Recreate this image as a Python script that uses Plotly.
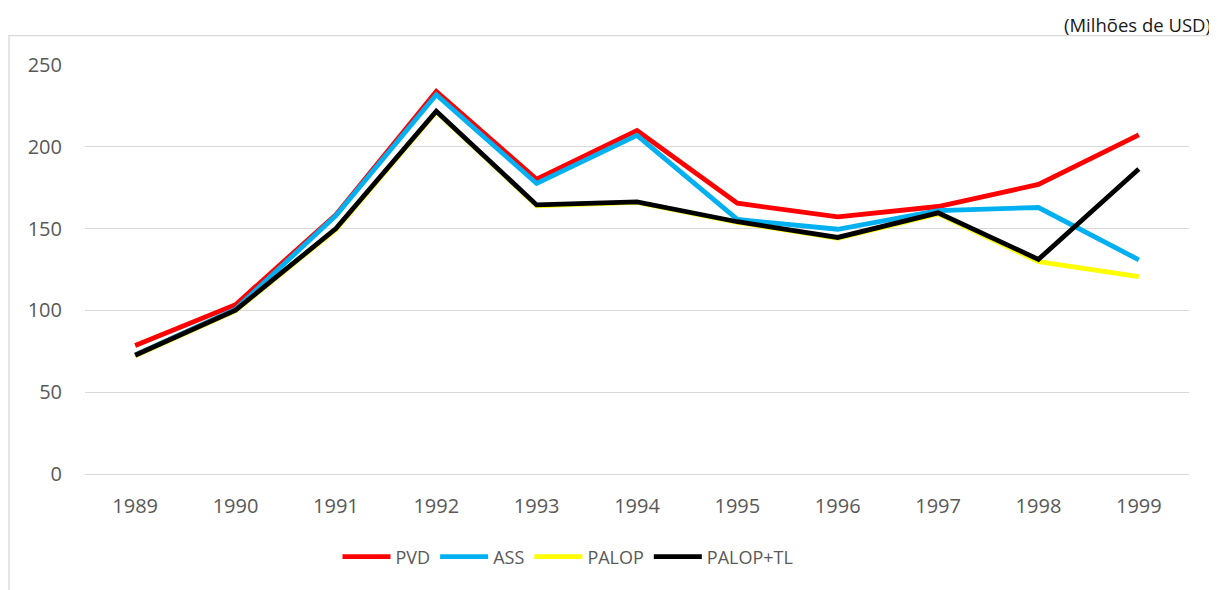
import plotly.graph_objects as go

years = ["1989", "1990", "1991", "1992", "1993", "1994", "1995", "1996", "1997", "1998", "1999"]
pvd = [78.5, 103.5, 158.5, 233.8, 180.2, 210.0, 165.5, 157.2, 163.5, 177.0, 207.3]
ass = [72.8, 100.8, 158.0, 231.8, 177.6, 207.0, 155.6, 149.6, 161.0, 162.9, 130.9]
palop = [72.3, 99.8, 149.5, 221.3, 164.0, 166.0, 153.8, 144.0, 159.0, 129.8, 120.6]
palop_tl = [72.6, 100.2, 150.0, 221.8, 164.5, 166.3, 154.2, 144.6, 159.6, 131.2, 186.4]

series = [("PVD", pvd, "#FF0000"), ("ASS", ass, "#00B0F0"),
          ("PALOP", palop, "#FFFF00"), ("PALOP+TL", palop_tl, "#000000")]

fig = go.Figure()
for name, vals, col in series:
    fig.add_trace(go.Scatter(x=years, y=vals, name=name, mode="lines",
                             line=dict(color=col, width=4.8)))

# page body has an 8px margin: work in reference pixels minus 8
OFF = 8
W, H = 1217 - OFF, 590 - OFF
L, R, T, B = 85 - OFF, 1188.7 - OFF, 65.3 - OFF, 474 - OFF
pw, ph = R - L, B - T

def px_x(p):
    return (p - OFF - L) / pw

def px_y(p):
    return (B - (p - OFF)) / ph

fig.update_layout(
    width=W, height=H,
    margin=dict(l=L, r=W - R, t=T, b=H - B),
    paper_bgcolor="white", plot_bgcolor="white",
    font=dict(family="Open Sans", color="#595959"),
    showlegend=True,
    legend=dict(orientation="h", xref="container", yref="container",
                x=(568 - OFF) / W, xanchor="center", y=1 - (557 - OFF) / H, yanchor="middle",
                itemwidth=48,
                font=dict(size=18, color="#595959"), traceorder="normal"),
    xaxis=dict(type="category", range=[-0.5, 10.5], showgrid=False, zeroline=False, showline=False,
               ticks="outside", ticklen=14, tickcolor="rgba(0,0,0,0)",
               tickfont=dict(size=20, color="#595959")),
    yaxis=dict(range=[0, 250], dtick=50, showgrid=True, gridcolor="#D9D9D9", gridwidth=1,
               zeroline=True, zerolinecolor="#D9D9D9", zerolinewidth=1, showline=False,
               ticks="outside", ticklen=18, tickcolor="rgba(0,0,0,0)",
               tickfont=dict(size=20, color="#595959")),
    shapes=[dict(type="rect", xref="paper", yref="paper",
                 x0=px_x(9), x1=px_x(1240), y0=px_y(620), y1=px_y(36),
                 line=dict(color="#D9D9D9", width=1.3), fillcolor="rgba(0,0,0,0)", layer="below")],
    annotations=[dict(text="(Milhões de USD)", xref="paper", yref="paper",
                      x=px_x(1213), y=px_y(25), xanchor="right", yanchor="middle",
                      showarrow=False, font=dict(size=18.5, color="#1a1a1a"))],
)

fig.write_html("out.html")
